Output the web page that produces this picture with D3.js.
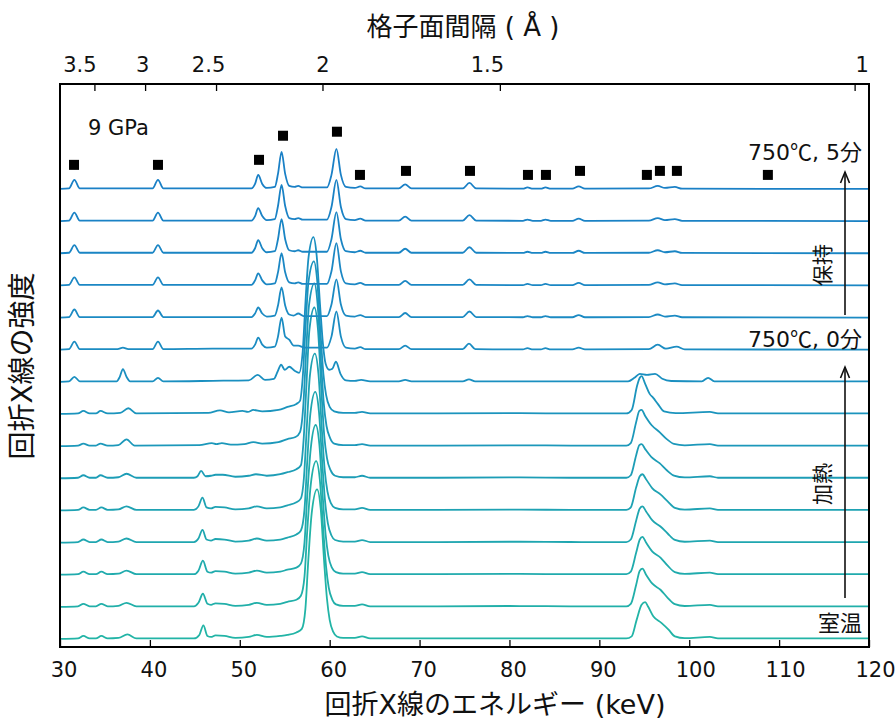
<!DOCTYPE html>
<html><head><meta charset="utf-8">
<script src="https://cdn.jsdelivr.net/npm/d3@7"></script>
<style>
body{margin:0;background:#fff;}
text{font-family:"DejaVu Sans","Noto Sans CJK JP",sans-serif;fill:#111;}
.cjk{font-family:"Noto Sans CJK JP","DejaVu Sans",sans-serif;}
</style></head><body>
<svg id="chart" width="896" height="722"></svg>
<script>
// Energy-dispersive XRD spectra at 9 GPa: heating from room temperature to 750 °C, then holding 0–5 min.
const energyTicks = [30, 40, 50, 60, 70, 80, 90, 100, 110, 120];
const dTicks = [3.5, 3, 2.5, 2, 1.5, 1];
const dTickLabels = ["3.5", "3", "2.5", "2", "1.5", "1"];
const E_TIMES_D = 118.4; // keV·Å, fixed-angle Bragg constant

// Spectra while heating, bottom (室温) to top; [energy keV, intensity a.u.]
const heating = [
  [[30,0],[32.0,0.5],[32.6,3],[33.3,0.5],[34.0,0.5],[34.6,3],[35.3,0.5],[36.5,1],[37.5,4.5],[38.5,0.5],[44.9,0.5],[45.5,4],[45.95,13.5],[46.4,3],[46.8,2],[47.3,3.5],[48.3,3],[49.5,1],[51.0,2],[51.9,4],[53.0,2],[54.5,3],[55.3,4],[56.3,6.5],[56.9,10],[57.3,30],[57.6,75],[58.0,125],[58.6,149],[59.0,130],[59.4,75],[59.7,40],[60.0,19],[60.4,7],[60.8,2.5],[61.5,1],[62.8,1],[63.6,2.5],[64.5,0.5],[72,0.5],[80,0.5],[88,0.5],[93.0,0.5],[93.6,2.6],[94.15,19],[94.7,34],[95.1,36.6],[95.4,32.6],[96.0,22.6],[96.9,16],[97.7,9.3],[98.4,2.6],[99.5,0.8],[102.3,2],[103.2,0.5],[120,0.5]],
  [[30,0],[32.0,0.5],[32.6,3],[33.3,0.5],[34.0,0.5],[34.6,3],[35.3,0.5],[36.5,1],[37.4,4],[38.5,0.5],[44.9,0.5],[45.4,4],[45.9,13],[46.4,3],[46.8,2],[47.3,3.5],[48.3,3],[49.5,1],[51.0,2],[51.9,4],[53.0,2],[54.5,3],[55.3,5],[56.3,7],[56.8,11],[57.2,30],[57.5,75],[57.9,122],[58.5,145],[58.9,127],[59.3,75],[59.6,40],[59.9,19],[60.3,7],[60.7,2.5],[61.5,1],[62.8,1],[63.6,2.5],[64.5,0.5],[72,0.5],[80,0.8],[88,0.5],[93.0,0.5],[93.5,3],[94.1,22],[94.5,36],[94.8,38],[95.2,32],[95.9,23],[96.8,17],[97.6,9],[98.4,2.6],[99.5,0.8],[102.3,2],[103.2,0.5],[120,0.5]],
  [[30,0],[32.0,0.5],[32.6,3],[33.3,0.5],[34.0,0.5],[34.6,3],[35.3,0.5],[36.5,1],[37.4,4],[38.5,0.5],[44.9,0.5],[45.4,4],[45.9,14],[46.4,3],[46.8,2],[47.3,3.5],[48.3,3],[49.5,1],[51.0,2],[51.9,4],[53.0,2],[54.5,3],[55.3,5],[56.3,7],[56.8,11],[57.2,32],[57.5,78],[57.9,126],[58.45,149],[58.85,130],[59.25,75],[59.55,40],[59.85,19],[60.25,7],[60.7,2.5],[61.5,1],[62.8,1],[63.6,2.5],[64.5,0.5],[72,0.5],[80,0.8],[88,0.5],[93.0,0.5],[93.5,3],[94.1,22],[94.5,35],[94.8,37.7],[95.2,32],[95.9,23],[96.8,17],[97.6,9],[98.4,2.6],[99.5,0.8],[102.3,2],[103.2,0.5],[120,0.5]],
  [[30,0],[32.0,0.5],[32.6,3],[33.3,0.5],[34.0,0.5],[34.6,3],[35.3,0.5],[36.5,1],[37.4,4],[38.5,0.5],[44.9,0.5],[45.4,4],[45.85,12.6],[46.3,3],[46.8,2],[47.3,3.5],[48.3,3],[49.5,1],[51.0,2],[51.9,4],[53.0,2],[54.5,3],[55.3,5],[56.3,8],[56.8,12],[57.2,33],[57.5,80],[57.85,128],[58.4,150],[58.8,131],[59.2,76],[59.5,40],[59.8,19],[60.2,7],[60.6,2.5],[61.5,1],[62.8,1],[63.6,2.5],[64.5,0.5],[72,0.5],[80,0.8],[88,0.5],[93.0,0.5],[93.5,3],[94.1,22],[94.5,34],[94.8,36],[95.2,31],[95.9,22],[96.8,16],[97.6,9],[98.4,2.6],[99.5,0.8],[102.3,2],[103.2,0.5],[120,0.5]],
  [[30,0],[32.0,0.5],[32.6,3],[33.3,0.5],[34.0,0.5],[34.6,3],[35.3,0.5],[36.5,1],[37.4,4],[38.5,0.5],[44.9,0.5],[45.4,4],[45.85,12.7],[46.3,3],[46.8,2],[47.3,3.5],[48.3,3],[49.5,1],[51.0,2],[51.9,4],[53.0,2],[54.5,3],[55.3,5],[56.3,8],[56.8,12],[57.15,34],[57.45,82],[57.8,134],[58.35,156],[58.75,136],[59.15,78],[59.45,40],[59.75,19],[60.15,7],[60.6,2.5],[61.5,1],[62.8,1],[63.6,2.5],[64.5,0.5],[72,0.5],[80,0.8],[88,0.5],[93.0,0.5],[93.5,3],[94.1,23],[94.5,34],[94.8,36],[95.2,31],[95.9,22],[96.8,16],[97.6,9],[98.4,2.6],[99.5,0.8],[102.3,2],[103.2,0.5],[120,0.5]],
  [[30,0],[32.0,0.5],[32.6,3],[33.3,0.5],[34.0,0.5],[34.5,3],[35.3,0.5],[36.5,1],[37.4,4.5],[38.5,0.5],[44.9,0.5],[45.3,2],[45.7,7.3],[46.2,2],[46.8,2.5],[47.3,3.5],[48.1,3.5],[49.5,1.5],[51.0,2.5],[51.8,4],[53.0,2.5],[54.5,4],[55.3,6],[56.3,9],[56.8,13],[57.1,38],[57.4,90],[57.75,148],[58.3,170],[58.7,148],[59.1,84],[59.4,42],[59.7,20],[60.1,8],[60.6,2.5],[61.5,1],[62.8,1],[63.6,2.5],[64.5,0.5],[72,0.5],[80,0.8],[88,0.5],[93.0,0.5],[93.5,3],[94.1,23],[94.45,33],[94.7,34],[95.1,29],[95.8,21],[96.7,15],[97.5,8],[98.3,2.6],[99.5,0.8],[102.3,2],[103.2,0.5],[120,0.5]],
  [[30,0],[32.0,0.5],[32.6,2.5],[33.3,0.5],[34.0,0.5],[34.5,2.5],[35.3,0.5],[36.5,1],[37.4,6.7],[38.3,0.5],[45.5,1],[46.9,3],[47.4,2],[48.0,3],[49.0,1.5],[50.5,2],[51.5,4],[52.5,2.5],[54.3,4],[55.3,7],[56.2,9],[56.7,14],[57.05,38],[57.35,88],[57.7,140],[58.3,162],[58.65,142],[59.05,82],[59.35,42],[59.65,20],[60.05,8],[60.5,2.5],[61.5,1],[62.8,1],[63.6,2],[64.5,0.5],[72,0.5],[80,0.8],[88,0.5],[93.0,0.5],[93.5,3],[94.1,24],[94.45,35],[94.7,36],[95.1,30],[95.8,21],[96.7,14],[97.5,7],[98.3,2.2],[99.5,0.8],[102.3,2],[103.2,0.5],[120,0.5]],
  [[30,0],[32.0,0.5],[32.6,3],[33.3,0.5],[34.0,0.5],[34.5,3],[35.3,0.5],[36.7,1],[37.6,5.7],[38.5,0.5],[46.5,1],[47.8,3.5],[48.8,1.5],[50.3,3],[50.9,2],[51.5,4],[52.5,2.5],[54.3,4],[55.3,7],[56.3,10],[56.7,13],[57.0,36],[57.3,84],[57.65,132],[58.25,152],[58.6,134],[59.0,78],[59.3,40],[59.6,19],[60.0,7],[60.5,2.5],[61.5,1],[62.8,1],[63.6,2],[64.5,0.5],[72,0.5],[80,0.8],[88,0.5],[93.0,0.5],[93.6,4],[94.2,28],[94.5,36],[94.7,37.7],[95.1,30],[95.6,20],[96.0,16],[96.5,10],[97.2,2.5],[98.5,0.8],[102.3,2],[103.2,0.5],[120,0.5]],
  [[30,0],[31.0,0.5],[31.6,5],[32.2,0.5],[36.3,0.5],[36.65,5],[37.0,12.7],[37.4,5],[37.8,0.5],[40.3,0.5],[40.9,4],[41.5,0.5],[47,1],[51.0,1.5],[52.0,7],[52.8,2],[53.8,3],[54.2,10],[54.6,17],[55.0,12],[55.5,15],[56.1,11],[56.6,9],[57.0,30],[57.3,78],[57.65,124],[58.2,144],[58.55,126],[58.95,74],[59.25,38],[59.55,18],[59.95,12],[60.3,13],[60.7,20],[61.2,8],[61.8,1.5],[62.8,1],[63.5,2],[64.5,0.5],[67.7,0.5],[68.4,2],[69.1,0.5],[74.8,0.5],[75.5,2.5],[76.2,0.5],[88,0.5],[93.2,0.5],[93.9,4],[94.5,8],[95.3,7],[96.2,8],[97.0,3],[98.0,0.8],[101.4,0.5],[102.1,4],[102.8,0.5],[120,0.5]]
];

// Spectra while holding at 750 ℃, 0 min (bottom) to 5 min (top)
const holding = [
  [[30,0],[31.0,0.5],[31.6,8],[32.2,0.5],[36.4,0.5],[37.0,2],[37.6,0.5],[40.3,0.5],[40.9,8],[41.5,0.5],[47,1],[51.3,1],[51.7,5],[52.05,12],[52.5,5],[53.0,2],[53.9,3],[54.25,13],[54.65,32],[55.05,13],[55.5,10],[56.0,4],[56.5,4],[57.2,2],[59.7,2],[60.2,13],[60.75,38],[61.25,13],[61.8,2],[62.8,1],[63.4,2.5],[64,0.5],[67.7,0.5],[68.4,4],[69.1,0.5],[74.8,0.5],[75.5,6],[76.2,0.5],[81.5,0.3],[82.0,1.5],[82.6,0.3],[83.5,0.3],[84.0,1.5],[84.6,0.3],[87.0,0.3],[87.7,2],[88.4,0.3],[95.5,0.5],[96.5,5],[97.4,1],[98.6,3],[99.5,0.3],[120,0]],
  [[30,0],[31.0,0.5],[31.6,8],[32.2,0.5],[40.3,0.5],[40.9,7],[41.5,0.5],[51.3,0.5],[51.7,4],[52.05,10],[52.5,4],[53.0,1],[53.9,2],[54.25,12],[54.65,30],[55.05,12],[55.5,3],[56.0,2],[56.5,4],[57.1,1.5],[59.7,1.5],[60.2,13],[60.75,38],[61.25,13],[61.8,2],[62.8,1],[63.4,2.5],[64,0.5],[67.7,0.5],[68.4,4.5],[69.1,0.5],[74.8,0.5],[75.55,6],[76.3,0.5],[81.5,0.3],[82.0,1.5],[82.6,0.3],[83.5,0.3],[84.0,1.5],[84.6,0.3],[87.0,0.3],[87.7,2.5],[88.4,0.3],[95.5,0.5],[96.5,3],[97.3,1],[98.4,2],[99.2,0.3],[120,0]],
  [[30,0],[31.0,0.5],[31.6,8],[32.2,0.5],[40.3,0.5],[40.9,8],[41.5,0.5],[51.3,0.5],[51.7,5],[52.05,12],[52.5,5],[53.0,1],[53.9,2],[54.25,13],[54.65,32],[55.05,13],[55.5,3],[56.1,2],[56.5,3],[57,1.5],[59.7,1.5],[60.2,14],[60.75,42],[61.25,14],[61.8,2],[62.8,1],[63.4,2.5],[64,0.5],[67.7,0.5],[68.4,4.5],[69.1,0.5],[74.8,0.5],[75.55,6],[76.3,0.5],[81.5,0.3],[82.0,1.5],[82.6,0.3],[83.5,0.3],[84.0,1.5],[84.6,0.3],[87.0,0.3],[87.7,2.5],[88.4,0.3],[95.5,0.5],[96.5,3],[97.3,1],[98.4,2],[99.2,0.3],[120,0]],
  [[30,0],[31.0,0.5],[31.6,8],[32.2,0.5],[40.3,0.5],[40.9,8],[41.5,0.5],[51.3,0.5],[51.7,5],[52.05,13],[52.5,5],[53.0,1],[53.9,2],[54.25,14],[54.65,34],[55.05,14],[55.5,3],[56.1,2],[56.5,3],[57,1.5],[59.7,1.5],[60.2,14],[60.75,41],[61.25,14],[61.8,2],[62.8,1],[63.4,2.5],[64,0.5],[67.7,0.5],[68.4,4.5],[69.1,0.5],[74.8,0.5],[75.55,6],[76.3,0.5],[81.5,0.3],[82.0,1.5],[82.6,0.3],[83.5,0.3],[84.0,1.5],[84.6,0.3],[87.0,0.3],[87.7,2.5],[88.4,0.3],[95.5,0.5],[96.5,3],[97.3,1],[98.4,2],[99.2,0.3],[120,0]],
  [[30,0],[31.0,0.5],[31.6,8.5],[32.2,0.5],[40.3,0.5],[40.9,8.5],[41.5,0.5],[51.3,0.5],[51.7,5],[52.05,13],[52.5,5],[53.0,1],[53.9,2],[54.25,15],[54.65,36],[55.05,15],[55.5,3],[56.1,2],[56.5,3],[57,1.5],[59.7,1.5],[60.2,14],[60.75,41],[61.25,14],[61.8,2],[62.8,1],[63.4,2.5],[64,0.5],[67.7,0.5],[68.4,4.5],[69.1,0.5],[74.8,0.5],[75.55,6],[76.3,0.5],[81.5,0.3],[82.0,1.5],[82.6,0.3],[83.5,0.3],[84.0,1.5],[84.6,0.3],[87.0,0.3],[87.7,2.5],[88.4,0.3],[95.5,0.5],[96.5,3],[97.3,1],[98.4,2],[99.2,0.3],[120,0]],
  [[30,0],[31.0,0.5],[31.6,9],[32.2,0.5],[40.3,0.5],[40.9,9],[41.5,0.5],[51.3,0.5],[51.7,5],[52.05,14],[52.5,5],[53.0,1],[53.9,2],[54.25,15],[54.65,37],[55.05,15],[55.5,3],[56.1,2],[56.5,3],[57,1.5],[59.7,1.5],[60.2,14],[60.75,40],[61.25,14],[61.8,2],[62.8,1],[63.4,2.5],[64,0.5],[67.7,0.5],[68.4,4.5],[69.1,0.5],[74.8,0.5],[75.55,6],[76.3,0.5],[81.5,0.3],[82.0,1.5],[82.6,0.3],[83.5,0.3],[84.0,1.5],[84.6,0.3],[87.0,0.3],[87.7,2.5],[88.4,0.3],[95.5,0.5],[96.5,3],[97.3,1],[98.4,2],[99.2,0.3],[120,0]]
];

// Peak markers of the high-temperature phase: energy (keV) and height above the last spectrum
const markerE = [31.56, 40.9, 52.14, 54.81, 60.81, 63.37, 68.49, 75.61, 82.06, 84.06, 87.85, 95.29, 96.74, 98.63, 108.75];
const markerH = [24, 24, 29, 53, 57, 14, 18, 18, 14, 14, 18, 14, 18, 18, 14];

const pressureLabel = "9 GPa";
const arrowLabels = {hold: "保持", heat: "加熱"};

// ---- layout ----
const plot = {left: 60, right: 869, top: 84, bottom: 647};
const STEP = 32; // vertical offset between consecutive spectra (a.u.)

const svg = d3.select("#chart");
const x = d3.scaleLinear().domain([30, 120]).range([plot.left, plot.right]);
const y = d3.scaleLinear().domain([-8, 552.5]).range([plot.bottom, plot.top]);

const spectra = heating.concat(holding);
const nS = spectra.length;
const heatColor = d3.interpolateRgb("#22b4a6", "#1a8fc0");
const holdColor = d3.interpolateRgb("#1b8cc2", "#1a80c6");
const colorOf = i => i < heating.length
  ? heatColor(i / (heating.length - 1))
  : holdColor((i - heating.length) / (holding.length - 1));

const line = d3.line().curve(d3.curveMonotoneX);

const gTraces = svg.append("g");
spectra.forEach((s, i) => {
  const off = i * STEP;
  gTraces.append("path")
    .attr("d", line(s.map(p => [x(p[0]), y(p[1] + off)])))
    .attr("fill", "none")
    .attr("stroke", colorOf(i))
    .attr("stroke-width", 1.8)
    .attr("stroke-linejoin", "round");
});

// markers
const topBase = (nS - 1) * STEP;
svg.append("g").selectAll("rect").data(markerE).join("rect")
  .attr("x", (e) => x(e) - 5)
  .attr("y", (e, i) => y(topBase + markerH[i]) - 5)
  .attr("width", 10).attr("height", 10)
  .attr("fill", "#000");

// frame
svg.append("rect")
  .attr("x", plot.left).attr("y", plot.top)
  .attr("width", plot.right - plot.left).attr("height", plot.bottom - plot.top)
  .attr("fill", "none").attr("stroke", "#000").attr("stroke-width", 2);

// bottom axis (energy)
const gx = svg.append("g").attr("transform", `translate(0,${plot.bottom})`)
  .call(d3.axisBottom(x).tickValues(energyTicks).tickSizeInner(-7).tickSizeOuter(0).tickFormat(d3.format("d")));
gx.select(".domain").remove();
gx.selectAll(".tick line").attr("stroke", "#000").attr("stroke-width", 1.3);
gx.selectAll(".tick text")
  .attr("y", 30).attr("dy", 0)
  .attr("dx", d => String(d).length > 2 ? 6 : 3.5)
  .style("font-size", "21px").attr("fill", "#111");

// top axis (d-spacing)
const topLabelNudge = [-15, -3, -8, 0, -13, 7];
const gt = svg.append("g").attr("transform", `translate(0,${plot.top})`)
  .call(d3.axisTop(x).tickValues(dTicks.map(d => E_TIMES_D / d)).tickSizeInner(-7).tickSizeOuter(0)
    .tickFormat((v, i) => dTickLabels[i]));
gt.select(".domain").remove();
gt.selectAll(".tick line").attr("stroke", "#000").attr("stroke-width", 1.3);
gt.selectAll(".tick text")
  .attr("y", -12.5).attr("dy", 0)
  .attr("dx", (v, i) => topLabelNudge[i])
  .style("font-size", "21px").attr("fill", "#111");

// axis titles
svg.append("text").attr("x", 495).attr("y", 714).attr("text-anchor", "middle")
  .style("font-size", "27px").text("回折X線のエネルギー (keV)");
svg.append("text").attr("x", 463).attr("y", 36).attr("text-anchor", "middle")
  .style("font-size", "26px").text("格子面間隔 ( Å )");
svg.append("text").attr("transform", "translate(32,366) rotate(-90)").attr("text-anchor", "middle")
  .style("font-size", "28px").text("回折X線の強度");

// annotations
svg.append("text").attr("x", 88).attr("y", 135).style("font-size", "21px").text(pressureLabel);

function stageLabel(yp, parts) {
  const t = svg.append("text").attr("x", 862).attr("y", yp).attr("text-anchor", "end").style("font-size", "22px");
  parts.forEach(([s, cjk]) => {
    const ts = t.append("tspan").text(s);
    if (cjk) ts.attr("class", "cjk");
  });
}
stageLabel(160, [["750", false], ["℃", true], [", 5", false], ["分", true]]);
stageLabel(347, [["750", false], ["℃", true], [", 0", false], ["分", true]]);
stageLabel(631, [["室温", true]]);

svg.append("text").attr("transform", "translate(830,265) rotate(-90)").attr("text-anchor", "middle")
  .attr("class", "cjk").style("font-size", "21px").text(arrowLabels.hold);
svg.append("text").attr("transform", "translate(830,484) rotate(-90)").attr("text-anchor", "middle")
  .attr("class", "cjk").style("font-size", "21px").text(arrowLabels.heat);

function arrow(xp, y0, y1) {
  const g = svg.append("g").attr("stroke", "#111").attr("stroke-width", 1.6).attr("fill", "none");
  g.append("line").attr("x1", xp).attr("x2", xp).attr("y1", y0).attr("y2", y1);
  g.append("path").attr("d", `M${xp - 4.5},${y1 + 11}L${xp},${y1}L${xp + 4.5},${y1 + 11}`);
}
arrow(845, 315, 172);
arrow(845, 598, 367);
</script>
</body></html>
